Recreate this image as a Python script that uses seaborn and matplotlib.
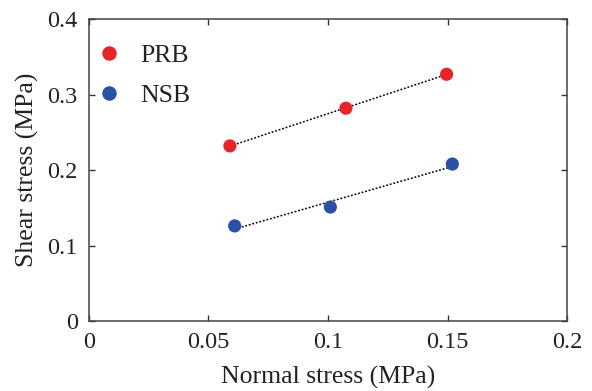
import numpy as np
import pandas as pd
import seaborn as sns
import matplotlib
matplotlib.use("Agg")
import matplotlib.pyplot as plt

# Data
prb_x = [0.059, 0.1075, 0.1496]
prb_y = [0.232, 0.282, 0.327]
nsb_x = [0.061, 0.101, 0.152]
nsb_y = [0.126, 0.151, 0.208]
series = ["PRB", "NSB"]
x_ticks = [0, 0.05, 0.1, 0.15, 0.2]
x_tick_labels = ["0", "0.05", "0.1", "0.15", "0.2"]
y_ticks = [0, 0.1, 0.2, 0.3, 0.4]
y_tick_labels = ["0", "0.1", "0.2", "0.3", "0.4"]
colors = {"PRB": "#e8242b", "NSB": "#2b50a6"}

df = pd.DataFrame({
    "x": prb_x + nsb_x,
    "y": prb_y + nsb_y,
    "series": ["PRB"] * len(prb_x) + ["NSB"] * len(nsb_x),
})

sns.set_theme(style="ticks")
plt.rcParams["font.family"] = ["Liberation Serif", "DejaVu Serif"]

fig = plt.figure(figsize=(5.92, 3.91), dpi=100)
ax = fig.add_axes([0.150, 0.179, 0.808, 0.772])

# fit lines
for name, xs, ys in [("PRB", prb_x, prb_y), ("NSB", nsb_x, nsb_y)]:
    k, b = np.polyfit(xs, ys, 1)
    xx = np.array([min(xs), max(xs)])
    ax.plot(xx, k * xx + b, linestyle=(0, (1.2, 1.2)), color="black", lw=1.1, zorder=2)

sns.scatterplot(data=df, x="x", y="y", hue="series", hue_order=series,
                palette=colors, s=90, edgecolor="none", ax=ax, zorder=3)

ax.set_xlim(0, 0.2)
ax.set_ylim(0, 0.4)
ax.set_xticks(x_ticks)
ax.set_xticklabels(x_tick_labels)
ax.set_yticks(y_ticks)
ax.set_yticklabels(y_tick_labels)
ax.tick_params(direction="in", length=4, width=1, top=True, right=True,
               labelsize=17.5, colors="#333333", labelcolor="#222222", pad=8)
for sp in ax.spines.values():
    sp.set_visible(True)
    sp.set_color("#444444")
    sp.set_linewidth(1.1)
ax.set_xlabel("Normal stress (MPa)", fontsize=18.5, color="#222222", labelpad=9)
ax.set_ylabel("Shear stress (MPa)", fontsize=18.5, color="#222222", labelpad=6)

leg = ax.legend(loc="upper left", frameon=False, fontsize=18.5, markerscale=1.1,
                handlelength=1.0, handletextpad=0.71, labelspacing=0.65,
                borderaxespad=0.0, bbox_to_anchor=(-0.006, 0.951))
for t in leg.get_texts():
    t.set_color("#222222")

fig.savefig("out.png", dpi=100)
